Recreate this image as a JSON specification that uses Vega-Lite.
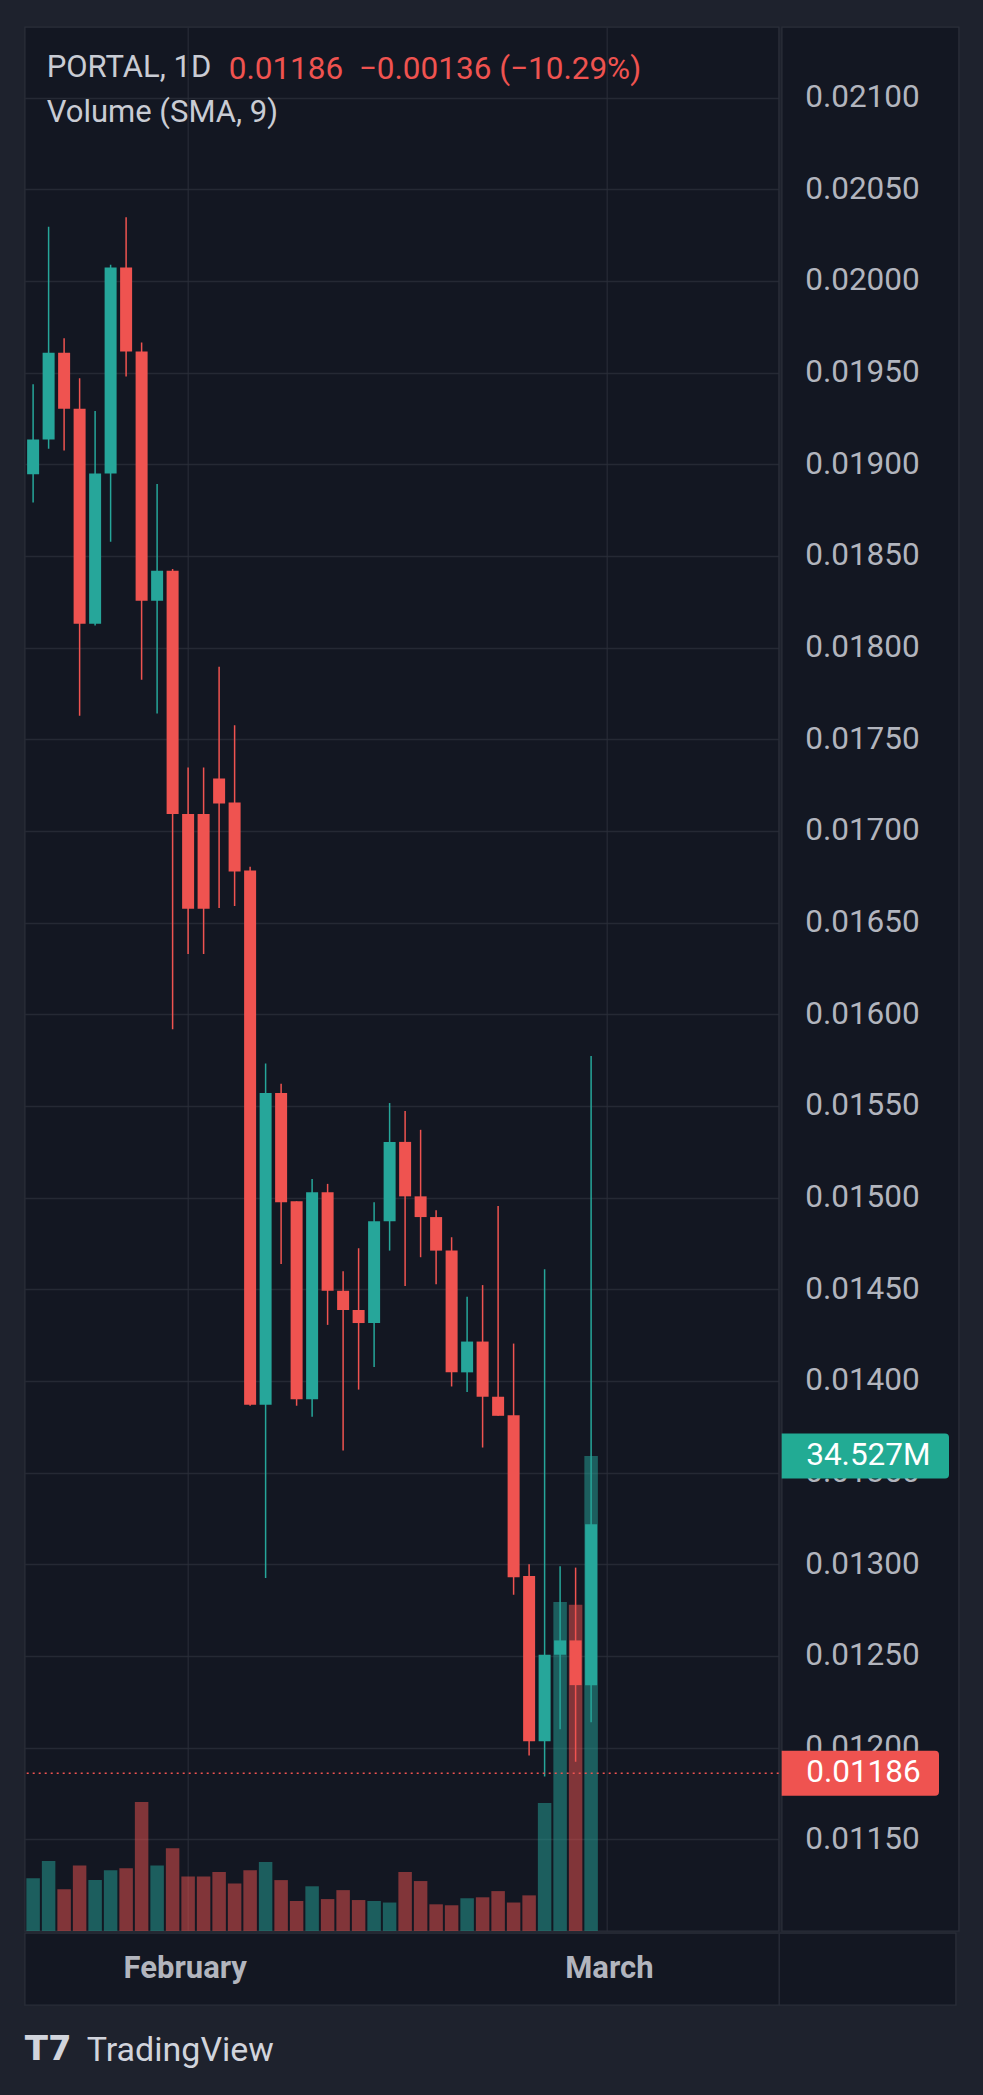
{
  "$schema": "https://vega.github.io/schema/vega-lite/v6.json",
  "background": "#1e222d",
  "padding": {"left": 22.7, "top": 26, "right": 25.3, "bottom": 31},
  "title": {
    "text": "TradingView",
    "orient": "bottom",
    "anchor": "start",
    "frame": "group",
    "dx": 62,
    "offset": -34,
    "fontSize": 34,
    "fontWeight": "normal",
    "color": "#d1d4dc"
  },
  "datasets": {
    "candles": [
      {"i": 0, "o": 0.018945, "h": 0.019437, "l": 0.018792, "c": 0.019135, "v": 3840000},
      {"i": 1, "o": 0.019135, "h": 0.020295, "l": 0.019084, "c": 0.019608, "v": 5080000},
      {"i": 2, "o": 0.019608, "h": 0.019688, "l": 0.019075, "c": 0.019303, "v": 3040000},
      {"i": 3, "o": 0.019303, "h": 0.019469, "l": 0.017628, "c": 0.01813, "v": 4770000},
      {"i": 4, "o": 0.01813, "h": 0.019291, "l": 0.01812, "c": 0.01895, "v": 3700000},
      {"i": 5, "o": 0.01895, "h": 0.020088, "l": 0.018578, "c": 0.020073, "v": 4420000},
      {"i": 6, "o": 0.020073, "h": 0.020348, "l": 0.019479, "c": 0.019615, "v": 4560000},
      {"i": 7, "o": 0.019615, "h": 0.019664, "l": 0.017825, "c": 0.018256, "v": 9370000},
      {"i": 8, "o": 0.018256, "h": 0.018892, "l": 0.017641, "c": 0.018419, "v": 4770000},
      {"i": 9, "o": 0.018419, "h": 0.018429, "l": 0.015919, "c": 0.017092, "v": 6010000},
      {"i": 10, "o": 0.017092, "h": 0.017346, "l": 0.016329, "c": 0.016575, "v": 3970000},
      {"i": 11, "o": 0.017092, "h": 0.017346, "l": 0.016329, "c": 0.016575, "v": 3970000},
      {"i": 12, "o": 0.017286, "h": 0.017895, "l": 0.01658, "c": 0.01715, "v": 4290000},
      {"i": 13, "o": 0.017155, "h": 0.017576, "l": 0.01659, "c": 0.016779, "v": 3460000},
      {"i": 14, "o": 0.016784, "h": 0.016805, "l": 0.013865, "c": 0.01387, "v": 4420000},
      {"i": 15, "o": 0.01387, "h": 0.015731, "l": 0.012925, "c": 0.015571, "v": 5010000},
      {"i": 16, "o": 0.015571, "h": 0.015621, "l": 0.014638, "c": 0.014975, "v": 3700000},
      {"i": 17, "o": 0.01498, "h": 0.01498, "l": 0.013865, "c": 0.013901, "v": 2180000},
      {"i": 18, "o": 0.013901, "h": 0.015101, "l": 0.013805, "c": 0.01503, "v": 3250000},
      {"i": 19, "o": 0.01503, "h": 0.015075, "l": 0.014306, "c": 0.014492, "v": 2320000},
      {"i": 20, "o": 0.014492, "h": 0.014599, "l": 0.013621, "c": 0.014387, "v": 2970000},
      {"i": 21, "o": 0.014387, "h": 0.014724, "l": 0.013953, "c": 0.014316, "v": 2250000},
      {"i": 22, "o": 0.014316, "h": 0.014975, "l": 0.014076, "c": 0.014871, "v": 2180000},
      {"i": 23, "o": 0.014871, "h": 0.015516, "l": 0.014711, "c": 0.015304, "v": 2070000},
      {"i": 24, "o": 0.015304, "h": 0.015472, "l": 0.014518, "c": 0.015007, "v": 4290000},
      {"i": 25, "o": 0.015007, "h": 0.01537, "l": 0.014675, "c": 0.014894, "v": 3630000},
      {"i": 26, "o": 0.014894, "h": 0.014931, "l": 0.014528, "c": 0.014711, "v": 1940000},
      {"i": 27, "o": 0.014711, "h": 0.014784, "l": 0.01397, "c": 0.014047, "v": 1870000},
      {"i": 28, "o": 0.014047, "h": 0.01446, "l": 0.01394, "c": 0.014215, "v": 2380000},
      {"i": 29, "o": 0.014215, "h": 0.014523, "l": 0.013637, "c": 0.013914, "v": 2450000},
      {"i": 30, "o": 0.013914, "h": 0.014954, "l": 0.01381, "c": 0.01381, "v": 2900000},
      {"i": 31, "o": 0.013813, "h": 0.014204, "l": 0.012834, "c": 0.01293, "v": 2070000},
      {"i": 32, "o": 0.012936, "h": 0.013001, "l": 0.011957, "c": 0.012035, "v": 2590000},
      {"i": 33, "o": 0.012035, "h": 0.014609, "l": 0.011843, "c": 0.012507, "v": 9300000},
      {"i": 34, "o": 0.012507, "h": 0.01299, "l": 0.0121, "c": 0.012585, "v": 23920000},
      {"i": 35, "o": 0.012585, "h": 0.012982, "l": 0.011923, "c": 0.012341, "v": 23710000},
      {"i": 36, "o": 0.012341, "h": 0.015772, "l": 0.012139, "c": 0.013219, "v": 34527000}
    ]
  },
  "spacing": 0,
  "vconcat": [
    {
      "spacing": 0,
      "title": {
        "text": "0.01186\u00a0\u00a0\u22120.00136 (\u221210.29%)",
        "orient": "bottom",
        "anchor": "start",
        "frame": "group",
        "dx": 204,
        "offset": -1877.7,
        "fontSize": 31.5,
        "fontWeight": "normal",
        "color": "#ef5350"
      },
      "hconcat": [
        {
          "width": 754,
          "height": 1904,
          "title": {
            "text": "PORTAL, 1D",
            "subtitle": "Volume (SMA, 9)",
            "orient": "bottom",
            "anchor": "start",
            "frame": "group",
            "dx": 22,
            "offset": -1877.7,
            "fontSize": 31,
            "fontWeight": "normal",
            "color": "#c9ccd4",
            "subtitleFontSize": 31,
            "subtitleColor": "#c9ccd4",
            "subtitlePadding": 13.6
          },
          "data": {"name": "candles"},
          "layer": [
            {
              "mark": {"type": "bar", "orient": "vertical", "size": 13.5, "opacity": 0.5, "clip": true},
              "encoding": {
                "x": {
                  "field": "i",
                  "type": "quantitative",
                  "scale": {"domain": [-0.22, 47.78], "nice": false, "zero": false},
                  "axis": {"values": [10, 37], "grid": true, "labels": false, "ticks": false, "domain": false, "title": null}
                },
                "y": {
                  "field": "v",
                  "type": "quantitative",
                  "scale": {"domain": [0, 138400000], "nice": false},
                  "axis": null
                },
                "color": {"condition": {"test": "datum.c >= datum.o", "value": "#26a69a"}, "value": "#ef5350"}
              }
            },
            {
              "mark": {"type": "rule", "strokeWidth": 1.5, "clip": true},
              "encoding": {
                "x": {"field": "i", "type": "quantitative"},
                "y": {
                  "field": "l",
                  "type": "quantitative",
                  "scale": {"domain": [0.011, 0.021385], "nice": false, "zero": false},
                  "axis": {
                    "orient": "left",
                    "values": [0.0115, 0.012, 0.0125, 0.013, 0.0135, 0.014, 0.0145, 0.015, 0.0155, 0.016, 0.0165, 0.017, 0.0175, 0.018, 0.0185, 0.019, 0.0195, 0.02, 0.0205, 0.021],
                    "grid": true, "labels": false, "ticks": false, "domain": false, "title": null, "minExtent": 0, "maxExtent": 0
                  }
                },
                "y2": {"field": "h"},
                "color": {"condition": {"test": "datum.c >= datum.o", "value": "#26a69a"}, "value": "#ef5350"}
              }
            },
            {
              "mark": {"type": "bar", "size": 12, "clip": true},
              "encoding": {
                "x": {"field": "i", "type": "quantitative"},
                "y": {
                  "field": "o",
                  "type": "quantitative",
                  "scale": {"domain": [0.011, 0.021385], "nice": false, "zero": false},
                  "axis": null
                },
                "y2": {"field": "c"},
                "color": {"condition": {"test": "datum.c >= datum.o", "value": "#26a69a"}, "value": "#ef5350"}
              }
            },
            {
              "data": {"values": [{"last": 0.01186}]},
              "mark": {"type": "rule", "color": "#ef5350", "strokeDash": [2, 4], "strokeWidth": 1.5},
              "encoding": {
                "y": {
                  "field": "last",
                  "type": "quantitative",
                  "scale": {"domain": [0.011, 0.021385], "nice": false, "zero": false},
                  "axis": null
                }
              }
            }
          ],
          "resolve": {"scale": {"y": "independent"}, "axis": {"y": "independent"}}
        },
        {
          "width": 177,
          "height": 1904,
          "layer": [
            {
              "data": {"values": [{"last": 0.01186}]},
              "mark": {
                "type": "point",
                "filled": true,
                "opacity": 1,
                "size": 4,
                "strokeWidth": 0,
                "color": "#ef5350",
                "shape": "M-88.5,-22.5H64.8Q68.8,-22.5 68.8,-18.5V18.5Q68.8,22.5 64.8,22.5H-88.5Z"
              },
              "encoding": {
                "y": {
                  "field": "last",
                  "type": "quantitative",
                  "scale": {"domain": [0.011, 0.021385], "nice": false, "zero": false},
                  "axis": {
                    "orient": "left",
                    "values": [0.0115, 0.012, 0.0125, 0.013, 0.0135, 0.014, 0.0145, 0.015, 0.0155, 0.016, 0.0165, 0.017, 0.0175, 0.018, 0.0185, 0.019, 0.0195, 0.02, 0.0205, 0.021],
                    "format": ".5f",
                    "grid": false,
                    "ticks": false,
                    "tickSize": 0,
                    "domain": false,
                    "title": null,
                    "labelAlign": "left",
                    "labelPadding": -23,
                    "labelFontSize": 31.5,
                    "labelColor": "#b2b5be",
                    "labelOverlap": false,
                    "minExtent": 0,
                    "zindex": 0
                  }
                }
              }
            },
            {
              "data": {"values": [{"last": 0.01186}]},
              "mark": {"type": "text", "align": "left", "dx": -64, "fontSize": 31.5, "color": "#ffffff"},
              "encoding": {
                "y": {
                  "field": "last",
                  "type": "quantitative",
                  "scale": {"domain": [0.011, 0.021385], "nice": false, "zero": false},
                  "axis": null
                },
                "text": {"field": "last", "type": "quantitative", "format": ".5f"}
              }
            },
            {
              "data": {"values": [{"vol": 34527000}]},
              "mark": {
                "type": "point",
                "filled": true,
                "opacity": 1,
                "size": 4,
                "strokeWidth": 0,
                "color": "#22ab94",
                "shape": "M-88.5,-22.5H74.8Q78.8,-22.5 78.8,-18.5V18.5Q78.8,22.5 74.8,22.5H-88.5Z"
              },
              "encoding": {
                "y": {
                  "field": "vol",
                  "type": "quantitative",
                  "scale": {"domain": [0, 138400000], "nice": false},
                  "axis": null
                }
              }
            },
            {
              "data": {"values": [{"vol": 34527000}]},
              "mark": {"type": "text", "align": "left", "dx": -64, "fontSize": 31.5, "color": "#ffffff"},
              "encoding": {
                "y": {
                  "field": "vol",
                  "type": "quantitative",
                  "scale": {"domain": [0, 138400000], "nice": false},
                  "axis": null
                },
                "text": {"field": "vol", "type": "quantitative", "format": ".5s"}
              }
            }
          ],
          "resolve": {"scale": {"y": "independent"}, "axis": {"y": "independent"}}
        }
      ]
    },
    {
      "width": 931,
      "height": 72,
      "title": {
        "text": "T7",
        "orient": "bottom",
        "anchor": "start",
        "frame": "group",
        "offset": 28,
        "font": "DejaVu Sans",
        "fontSize": 34,
        "fontWeight": "bold",
        "color": "#d1d4dc"
      },
      "data": {"values": [{"i": 10, "month": "February"}, {"i": 37, "month": "March"}]},
      "mark": {"type": "text", "fontSize": 31, "fontWeight": "bold", "color": "#b2b5be"},
      "encoding": {
        "x": {
          "field": "i",
          "type": "quantitative",
          "scale": {"domain": [-0.22, 59.047], "nice": false, "zero": false},
          "axis": {
            "values": [47.78],
            "grid": true,
            "gridColor": "#2a2e39",
            "gridOpacity": 1,
            "gridWidth": 1.3,
            "labels": false,
            "ticks": false,
            "domain": false,
            "title": null
          }
        },
        "text": {"field": "month", "type": "nominal"}
      }
    }
  ],
  "config": {
    "font": "Roboto",
    "view": {"fill": "#131722", "stroke": "#2a2e39", "strokeWidth": 1.3},
    "axis": {"gridColor": "#2a2e39", "gridOpacity": 0.8, "gridWidth": 1.3}
  }
}
